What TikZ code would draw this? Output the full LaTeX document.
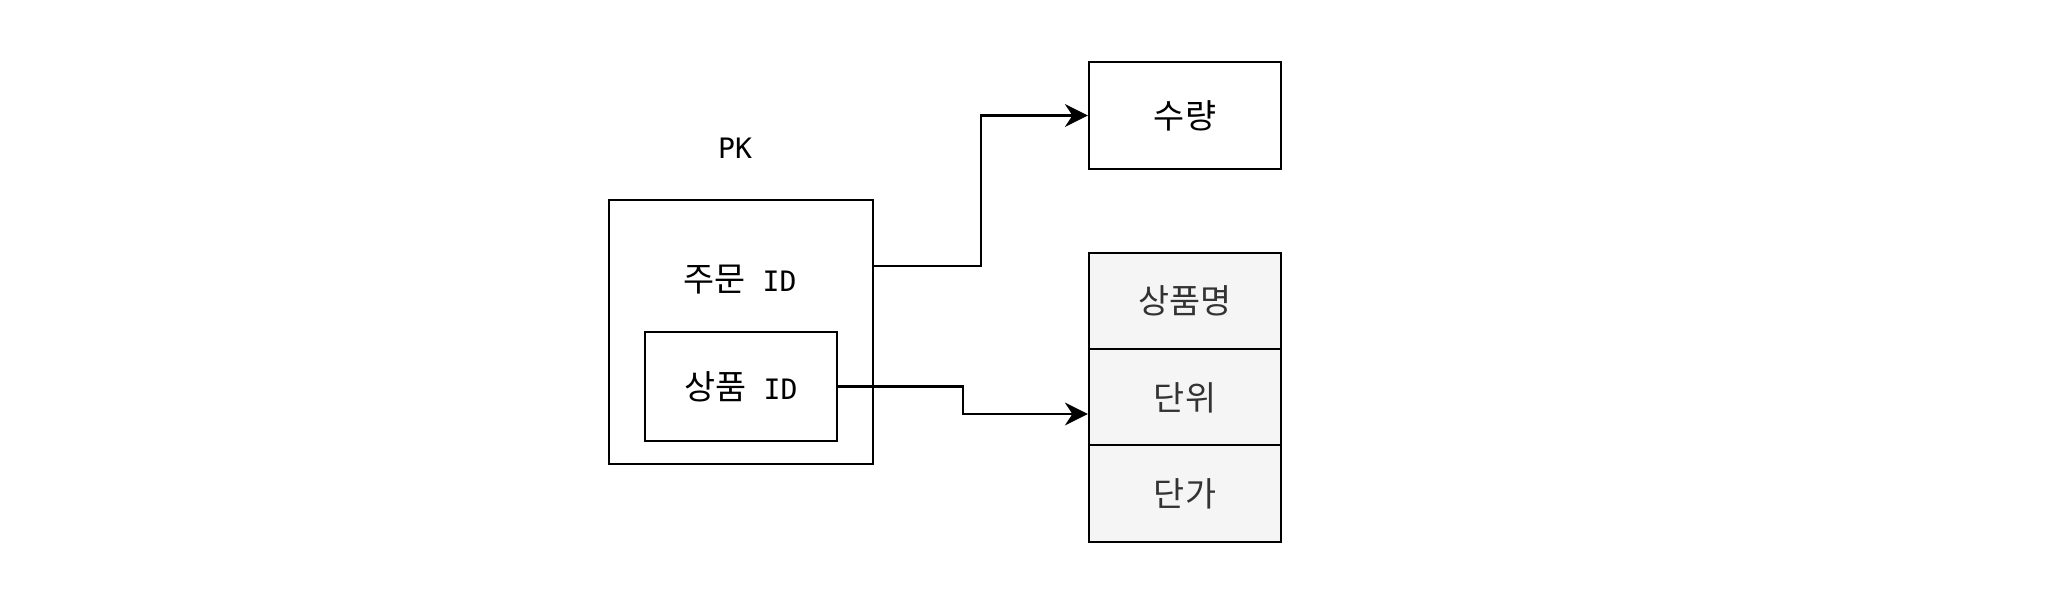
\documentclass[tikz,border=0pt]{standalone}
\usepackage{fontspec}
\setmainfont{DejaVu Sans Mono}
\newfontfamily\krfont{Noto Sans CJK KR}
\newcommand\kr{\krfont\fontsize{9.6}{11}\selectfont}
\usetikzlibrary{arrows.meta}
\definecolor{cellfill}{HTML}{F5F5F5}
\definecolor{celltext}{HTML}{333333}

\begin{document}
\begin{tikzpicture}[x=0.01cm,y=-0.01cm,>={Stealth[length=6.5pt,width=6.5pt]},line width=0.65pt,font=\fontsize{8}{10}\selectfont,every node/.style={draw,minimum width=1.92cm,minimum height=1.07cm,inner sep=0pt},attr/.style={fill=cellfill,text=celltext,minimum height=0.965cm}]
\useasboundingbox (0,0) rectangle (2064,600);
\node(pk)[draw=none] at (735,148){PK};
\node(ord)[minimum width=2.64cm,minimum height=2.64cm] at (741,332){};
\node(ordt)[draw=none] at (740,280){{\kr 주문} ID};
\node(prd)[minimum height=1.09cm] at (741,386.5){{\kr 상품} ID};
\node(qty) at (1185,115.5){\kr 수량};
\node(nm)[attr] at (1185,301){\kr 상품명};
\node(unit)[attr] at (1185,397.5){\kr 단위};
\node(price)[attr] at (1185,493.5){\kr 단가};
\coordinate(o1) at (ord.east |- 0,266);
\coordinate(u1) at (unit.west |- 0,414);
\draw[->](o1)--(981,266)|-(qty.west);
\draw[->](prd.east)-|(963,414)--(u1);
\end{tikzpicture}
\end{document}
